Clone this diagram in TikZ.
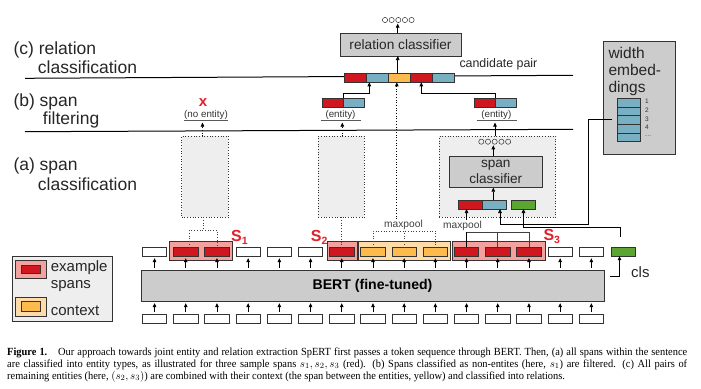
\documentclass[tikz,border=0pt]{standalone}
\usepackage{fontspec}
\setmainfont{Liberation Sans}
\newfontfamily\capfont[FakeStretch=0.955]{Liberation Serif}
\usetikzlibrary{arrows.meta}
\definecolor{tred}{HTML}{D0161E}
\definecolor{tsalmon}{HTML}{F4A19E}
\definecolor{tblue}{HTML}{79AFC3}
\definecolor{tyellow}{HTML}{FDBA4D}
\definecolor{tpeach}{HTML}{FDDCA9}
\definecolor{tgreen}{HTML}{5BA532}
\definecolor{bgray}{HTML}{CCCCCC}
\definecolor{lgray}{HTML}{EEEEEE}
\definecolor{edgec}{HTML}{333333}
\definecolor{slabel}{HTML}{E0202A}
\newcommand{\mydots}{.\kern0.3pt.\kern0.3pt.}
\tikzset{
  tok/.style={draw=edgec, line width=0.8pt, minimum width=24.5pt, minimum height=9pt, inner sep=0pt, outer sep=0pt, fill=white},
  seg/.style={draw=edgec, line width=0.8pt, minimum height=9pt, inner sep=0pt, outer sep=0pt},
  hl/.style={draw=edgec, line width=0.8pt, inner sep=0pt, outer sep=0pt, minimum height=19pt},
  arr/.style={-{Triangle[length=4pt,width=3.6pt]}, line width=0.7pt, black},
  dotbox/.style={draw=edgec, dotted, line width=0.7pt, fill=lgray, inner sep=0pt, outer sep=0pt},
  grayb/.style={draw=edgec, line width=0.8pt, fill=bgray, inner sep=0pt, outer sep=0pt},
  lbl/.style={font=\fontsize{17.5}{20}\selectfont, anchor=base west, inner sep=0pt, text=black!85},
  smalllbl/.style={font=\fontsize{9.8}{11}\selectfont, inner sep=0pt, text=black!80},
  mplbl/.style={font=\fontsize{10.2}{11}\selectfont, inner sep=1pt, text=black!75, fill=white},
  slbl/.style={anchor=base west, inner sep=0pt, text=slabel, font=\fontsize{16}{16}\selectfont\bfseries},
  uline/.style={line width=1pt, black!65},
  brk/.style={line width=0.8pt, black!75},
  dbrk/.style={line width=0.7pt, black!75, dotted},
  sepline/.style={line width=1pt, black},
  circ/.style={draw=black!80, line width=0.5pt, circle, minimum size=5.2pt, inner sep=0pt}
}
\begin{document}
\begin{tikzpicture}[x=1pt,y=-1pt]
\useasboundingbox (0,0) rectangle (701,388);

% ---------- stage labels ----------
\node[lbl] (lc1) at (13.3,54) {(c) relation};
\node[lbl] (lc2) at (37.7,73.5) {classification};
\node[lbl] (lb1) at (13.3,106) {(b) span};
\node[lbl] (lb2) at (42.7,124.5) {filtering};
\node[lbl] (la1) at (13.3,170) {(a) span};
\node[lbl] (la2) at (37.7,190) {classification};

% ---------- separator lines ----------
\coordinate (s1a) at (25,78.3);
\coordinate (s1b) at (573,75.3);
\coordinate (s2a) at (25,131.7);
\coordinate (s2b) at (573,129.3);
\draw[sepline] (s1a) -- (s1b);
\draw[sepline] (s2a) -- (s2b);

% ---------- BERT ----------
\node[draw=edgec, line width=0.9pt, fill=bgray, minimum width=463pt, minimum height=31.7pt, inner sep=0pt, outer sep=0pt, font=\fontsize{14.1}{16}\selectfont\bfseries] (bert) at (372.5,285.85) {BERT (fine-tuned)};

% bottom tokens
\foreach \i in {0,...,14} {
  \node[tok] (b\i) at ({154.55+31.2*\i},318.7) {};
  \draw[arr, shorten <=2pt, shorten >=1.5pt] (b\i.north) -- (b\i.north |- bert.south);
}

% highlight boxes
\node[hl, fill=tsalmon, minimum width=63pt] (hs1) at (200.8,251.2) {};
\node[hl, fill=tsalmon, minimum width=30pt] (hs2) at (342,251.2) {};
\node[hl, fill=tpeach, minimum width=92.5pt] (hctx) at (404.25,251.2) {};
\node[hl, fill=tsalmon, minimum width=93pt] (hs3) at (498.5,251.2) {};

% upper tokens
\foreach \i/\c in {0/white,1/tred,2/tred,3/white,4/white,5/white,6/tred,7/tyellow,8/tyellow,9/tyellow,10/tred,11/tred,12/tred,13/white,14/white} {
  \node[tok, fill=\c] (u\i) at ({154.55+31.2*\i},251.7) {};
  \draw[arr, shorten <=2pt, shorten >=2pt] (u\i.south |- bert.north) -- (u\i.south);
}
\node[tok, fill=tgreen] (u15) at (623.5,251.7) {};

% cls
\coordinate (clsa) at (609.5,276.7);
\coordinate (clsb) at (619.5,276.7);
\draw[arr] (clsa) -- (clsb) -- (clsb |- u15.south);
\node[font=\fontsize{15}{16}\selectfont, anchor=west, inner sep=0pt, text=black!85] (clslbl) at (631,272) {cls};

% span labels
\node[slbl] (ls1) at (231,241.5) {S\raisebox{-3pt}{\fontsize{10.5}{11}\selectfont 1}};
\node[slbl] (ls2) at (310.7,241) {S\raisebox{-3pt}{\fontsize{10.5}{11}\selectfont 2}};
\node[slbl] (ls3) at (543.3,240) {S\raisebox{-3pt}{\fontsize{10.5}{11}\selectfont 3}};

% ---------- (a) span classification boxes ----------
\node[dotbox, minimum width=46.6pt, minimum height=81.3pt] (box1) at (205,176.65) {};
\node[dotbox, minimum width=46pt, minimum height=81.3pt] (box2) at (341.3,176.65) {};
\node[dotbox, minimum width=116.4pt, minimum height=81.3pt] (box3) at (497.5,176.65) {};

% S1 dotted bracket
\coordinate (br1) at (203,230);
\draw[dbrk] (box1.south -| br1) -- (br1);
\draw[dbrk] ([xshift=4pt]u1.north) -- ([xshift=4pt]u1.north |- br1) -- (u2.north |- br1) -- (u2.north);
% S2 dotted connector
\draw[dbrk] (box2.south -| u6.north) -- (u6.north);

% context maxpool (dotted)
\coordinate (brc) at (0,231);
\draw[dbrk] (u7.north) -- (u7.north |- brc) -- (u9.north |- brc) -- (u9.north);
\draw[dbrk] (u8.north) -- (u8.north |- brc);
\node[mplbl] (mpc) at (403.5,225) {maxpool};

% S3 maxpool (solid)
\coordinate (br3) at (0,232.3);
\draw[brk] (u10.north |- br3) -- (u12.north |- br3) -- (u12.north);
\draw[brk] (u11.north) -- (u11.north |- br3);

% span classifier content
\node[seg, fill=tred, minimum width=24.3pt] (cr) at (470.15,204.5) {};
\node[seg, fill=tblue, minimum width=24.4pt] (cb) at (494.5,204.5) {};
\node[seg, fill=tgreen, minimum width=24.4pt] (cg) at (523.5,204.5) {};
\draw[arr] (u10.north) -- (u10.north |- cr.south);
\node[mplbl] (mp3) at (462.5,226) {maxpool};

\node[grayb, minimum width=93pt, minimum height=31.7pt, align=center, font=\fontsize{13.6}{15.7}\selectfont, text=black!85] (spc) at (495.8,171.85) {span\\classifier};
\draw[arr] ([xshift=-1.2pt]cb.north) -- ([xshift=-1.2pt]cb.north |- spc.south);
\foreach \k in {0,1,2,3,4} \node[circ] (sc\k) at ({481.3+6.7*\k},141.7) {};
\draw[arr] ([xshift=-2.5pt]spc.north) -- ([xshift=-2.5pt]spc.north |- 0,145.3);

% ---------- width embeddings ----------
\node[grayb, minimum width=72.4pt, minimum height=112.3pt] (wbox) at (639.5,97.85) {};
\node[anchor=base west, inner sep=0pt, font=\fontsize{15.5}{17}\selectfont, text=black!85] (wt1) at (608.3,58.5) {width};
\node[anchor=base west, inner sep=0pt, font=\fontsize{15.5}{17}\selectfont, text=black!85] (wt2) at (608.3,75.3) {embed-};
\node[anchor=base west, inner sep=0pt, font=\fontsize{15.5}{17}\selectfont, text=black!85] (wt3) at (608.3,92) {dings};
\foreach \k/\t in {1/1,2/2,3/3,4/4,5/\mydots} {
  \node[draw=edgec, line width=0.8pt, fill=tblue, minimum width=22.7pt, minimum height=8.7pt, inner sep=0pt, outer sep=0pt] (we\k) at (628.65,{98.3+8.7*(\k-0.5)}) {};
  \node[anchor=west, inner sep=0pt, font=\fontsize{6.5}{7}\selectfont, text=black!80] (wn\k) at (645,{98.3+8.7*(\k-0.5)-1.2}) {\t};
}
\coordinate (wtap) at (611.7,119.3);
\coordinate (wcorner) at (588.7,224.3);
\draw[arr] (wtap) -- (wtap -| wcorner) -- (wcorner) -- ([xshift=5.5pt]cb.south |- wcorner) -- ([xshift=5.5pt]cb.south);
\coordinate (clsout) at (620,236.5);
\coordinate (gcorner) at (620,227.7);
\draw[arr] (clsout) -- (gcorner) -- (gcorner -| cg.south) -- (cg.south);

% ---------- (b) span filtering ----------
\node[text=slabel, font=\fontsize{15}{15}\selectfont\bfseries, inner sep=0pt] (xmark) at (203,103) {x};
\node[smalllbl] (ne) at (206,115) {(no entity)};
\draw[uline] (184.3,120.7) coordinate (ne1) -- (228.3,120.7) coordinate (ne2);
\draw[arr, dotted] (box1.north -| 202.5,0) -- (202.5,122.6);

\node[seg, fill=tred, minimum width=21pt] (ler) at (332.8,102.8) {};
\node[seg, fill=tblue, minimum width=21pt] (leb) at (353.8,102.8) {};
\node[smalllbl] (le) at (340.5,115) {(entity)};
\draw[uline] (320.7,120.7) coordinate (le1) -- (361,120.7) coordinate (le2);
\draw[arr, dotted] (box2.north -| 342.3,0) -- (342.3,122.6);

\node[seg, fill=tred, minimum width=21.4pt] (rer) at (485,102.8) {};
\node[seg, fill=tblue, minimum width=21pt] (reb) at (506.2,102.8) {};
\node[smalllbl] (re) at (496.3,115) {(entity)};
\draw[uline] (476.7,120.7) coordinate (re1) -- (516.7,120.7) coordinate (re2);
\draw[arr] (box3.north -| 495,0) -- (495,122.6);

% ---------- (c) relation classification ----------
\node[seg, fill=tred, minimum width=22pt] (cp1) at (355.3,77.8) {};
\node[seg, fill=tblue, minimum width=22pt] (cp2) at (377.3,77.8) {};
\node[seg, fill=tyellow, minimum width=22pt] (cp3) at (399.3,77.8) {};
\node[seg, fill=tred, minimum width=22pt] (cp4) at (421.3,77.8) {};
\node[seg, fill=tblue, minimum width=22pt] (cp5) at (443.3,77.8) {};
\node[anchor=west, inner sep=0pt, font=\fontsize{12.4}{14}\selectfont, text=black!85] (cand) at (459.3,64) {candidate pair};

\draw[arr] (ler.north east) -- ++(0,-5) -| ([xshift=3pt]cp2.south west);
\draw[arr] (rer.north east) -- ++(0,-5) -| (cp4.south);
\draw[arr, dotted] ([xshift=-2.5pt]cp3.south |- mpc.north) -- ([xshift=-2.5pt]cp3.south);

\node[grayb, minimum width=121pt, minimum height=22.7pt, font=\fontsize{13.7}{15}\selectfont, text=black!85] (rc) at (400.5,44.65) {relation classifier};
\draw[arr] ([xshift=-1.6pt]cp3.north) -- ([xshift=-1.6pt]cp3.north |- rc.south);
\foreach \k in {0,1,2,3,4} \node[circ] (rcc\k) at ({385+6.65*\k},20) {};
\draw[arr] ([xshift=-2.8pt]rc.north) -- ([xshift=-2.8pt]rc.north |- 0,23.6);

% ---------- legend ----------
\node[draw=edgec, line width=0.8pt, fill=lgray, minimum width=100.4pt, minimum height=65pt, inner sep=0pt, outer sep=0pt] (lg) at (62.5,288.5) {};
\node[hl, fill=tsalmon, minimum width=31pt, minimum height=18.3pt] (lgs1) at (30.5,269.15) {};
\node[seg, fill=tred, minimum width=18.3pt, minimum height=8.3pt] (lgi1) at (30.85,269.15) {};
\node[hl, fill=tpeach, minimum width=31pt, minimum height=18.7pt] (lgs2) at (30.5,306.65) {};
\node[seg, fill=tyellow, minimum width=18.3pt, minimum height=9.3pt] (lgi2) at (30.85,306.35) {};
\node[anchor=base west, inner sep=0pt, font=\fontsize{15}{16}\selectfont, text=black!85] (lgt1) at (50.7,271.7) {example};
\node[anchor=base west, inner sep=0pt, font=\fontsize{15}{16}\selectfont, text=black!85] (lgt2) at (50.7,288.3) {spans};
\node[anchor=base west, inner sep=0pt, font=\fontsize{15}{16}\selectfont, text=black!85] (lgt3) at (50.7,315) {context};

% ---------- caption ----------
\node[anchor=north west, inner sep=0pt, text width=680pt, align=justify, font=\capfont\fontsize{10.9}{12}\selectfont] (cap) at (7,347.2) {\hyphenpenalty=10000\textbf{Figure 1.}\hspace{1em}Our approach towards joint entity and relation extraction SpERT first passes a token sequence through BERT. Then, (a) all spans within the sentence\linebreak are classified into entity types, as illustrated for three sample spans $s_1, s_2, s_3$ (red). (b) Spans classified as non-entites (here, $s_1$) are filtered. (c) All pairs of\linebreak remaining entities (here, $(s_2, s_3)$) are combined with their context (the span between the entities, yellow) and classified into relations.};
\end{tikzpicture}
\end{document}
